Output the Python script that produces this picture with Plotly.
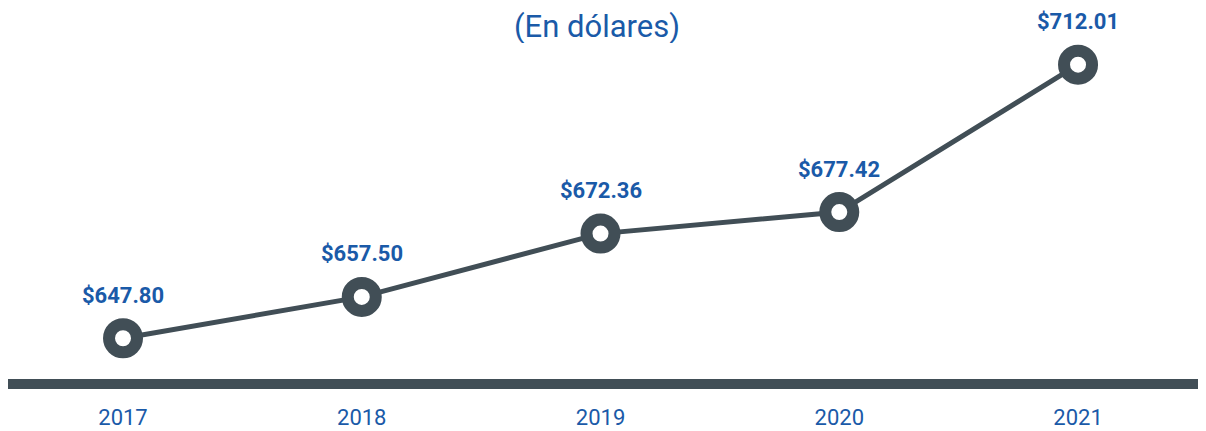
import plotly.graph_objects as go

years = ["2017", "2018", "2019", "2020", "2021"]
values = [647.80, 657.50, 672.36, 677.42, 712.01]
title_text = "(En dólares)"

line_color = "#414e56"
blue = "#1a5aa8"

xs = list(range(len(years)))

fig = go.Figure()
fig.add_trace(go.Scatter(
    x=xs, y=values, mode="lines+markers",
    line=dict(color=line_color, width=5),
    marker=dict(size=28, color="white", line=dict(color=line_color, width=12)),
    hoverinfo="skip", cliponaxis=False,
))

for xi, v in zip(xs, values):
    fig.add_annotation(x=xi, y=v, xref="x", yref="y", text=f"<b>${v:,.2f}</b>", showarrow=False,
                       yshift=43, borderpad=0, font=dict(family="Roboto", size=22, color=blue))

fig.add_annotation(x=0.4917, xref="paper", y=1, yref="paper", yanchor="top", yshift=0,
                   height=34, valign="middle",
                   text=title_text, showarrow=False, borderpad=0,
                   font=dict(family="Roboto", size=31, color=blue))

fig.add_shape(type="line", xref="paper", yref="paper", x0=0.0, x1=1.0, y0=0, y1=0,
              line=dict(color=line_color, width=10))

fig.update_layout(
    width=1198, height=423,
    margin=dict(l=0, r=0, t=0, b=47),
    paper_bgcolor="white", plot_bgcolor="white",
    showlegend=False,
    xaxis=dict(range=[-0.4817, 4.536], showgrid=False, zeroline=False,
               showline=False, ticks="outside", ticklen=14, tickcolor="rgba(0,0,0,0)",
               tickvals=xs, ticktext=years,
               tickfont=dict(family="Roboto", size=22, color=blue)),
    yaxis=dict(range=[637.06, 725.32], visible=False),
)

fig.write_html("out.html")
